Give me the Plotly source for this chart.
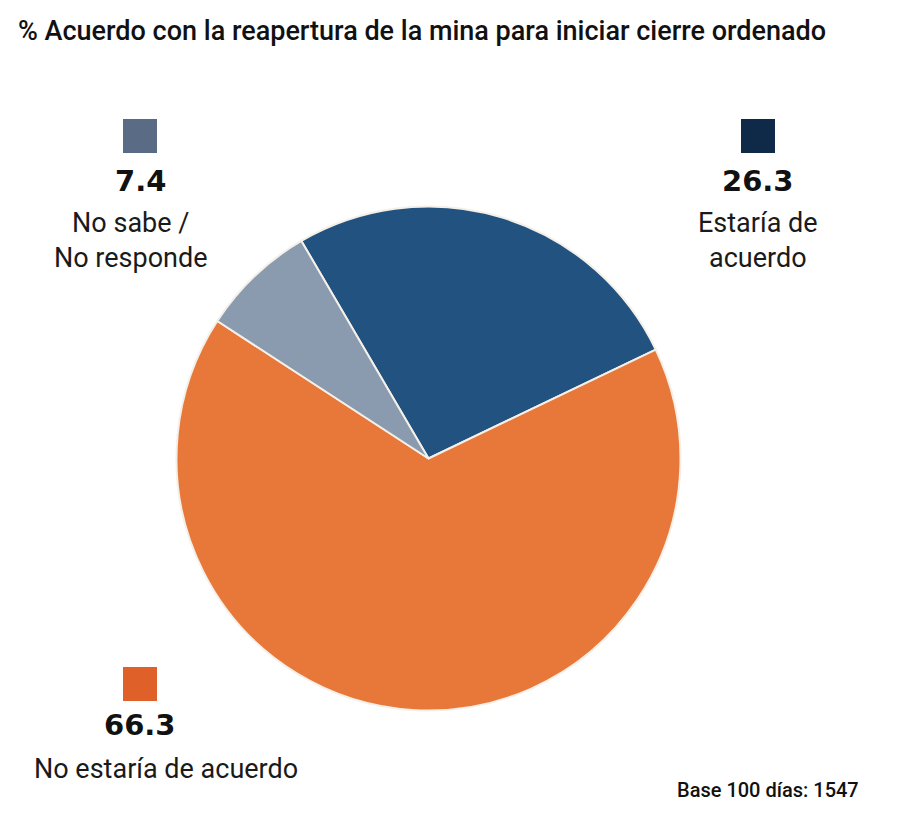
import plotly.graph_objects as go

W, H = 900, 817
OFF = 8  # page body margin

categories = ["Estaría de acuerdo", "No estaría de acuerdo", "No sabe / No responde"]
values = [26.3, 66.3, 7.4]
value_labels = ["26.3", "66.3", "7.4"]
label_lines = ["Estaría de<br>acuerdo", "No estaría de acuerdo", "No sabe /<br>No responde"]
slice_colors = ["#22527f", "#e8783a", "#8a9bb0"]
key_colors = ["#0f2a48", "#e0602a", "#5a6b85"]
title_text = "% Acuerdo con la reapertura de la mina para iniciar cierre ordenado"
note_text = "Base 100 días: 1547"

def px(x):
    return (x - OFF) / W

def py(y):
    return 1 - (y - OFF) / H

fig = go.Figure()
cx, cy, r = 428.5, 458.5, 252
fig.add_trace(go.Pie(
    labels=categories,
    values=values,
    sort=False,
    direction="clockwise",
    rotation=-30.3,
    marker=dict(colors=slice_colors, line=dict(color="#f4f0e8", width=2)),
    textinfo="none",
    hoverinfo="label+value",
    showlegend=False,
    domain=dict(x=[px(cx - r), px(cx + r)], y=[py(cy + r), py(cy - r)]),
))

# key blocks positions: (square center x, square top y, value y, label y, label x)
pos = [
    (758, 119, 181, 240, 758),
    (140, 667, 725, 769, 166),
    (140, 119, 181, 240, 131),
]
shapes = []
annotations = []
for i in range(3):
    sx, sy, vy, ly, lx = pos[i]
    shapes.append(dict(type="rect", xref="paper", yref="paper",
                       x0=px(sx - 17), x1=px(sx + 17), y0=py(sy + 34), y1=py(sy),
                       fillcolor=key_colors[i], line=dict(width=0)))
    annotations.append(dict(xref="paper", yref="paper", x=px(sx), y=py(vy),
                            text="<b>" + value_labels[i] + "</b>", showarrow=False,
                            xanchor="center", yanchor="middle",
                            font=dict(family="DejaVu Sans", size=29, color="#111111")))
    annotations.append(dict(xref="paper", yref="paper", x=px(lx), y=py(ly),
                            text=label_lines[i], showarrow=False,
                            xanchor="center", yanchor="middle",
                            font=dict(family="Roboto", size=27, color="#1a1a1a")))

annotations.append(dict(xref="paper", yref="paper", x=px(16), y=py(31),
                        text=title_text, showarrow=False, xanchor="left", yanchor="middle",
                        font=dict(family="Roboto", size=27, weight=500, color="#111111")))
annotations.append(dict(xref="paper", yref="paper", x=px(861), y=py(790),
                        text=note_text, showarrow=False,
                        xanchor="right", yanchor="middle",
                        font=dict(family="Roboto", size=20, weight=500, color="#111111")))

fig.update_layout(
    width=W, height=H,
    margin=dict(l=0, r=0, t=0, b=0),
    paper_bgcolor="white", plot_bgcolor="white",
    shapes=shapes, annotations=annotations,
)
fig.write_html("out.html")
